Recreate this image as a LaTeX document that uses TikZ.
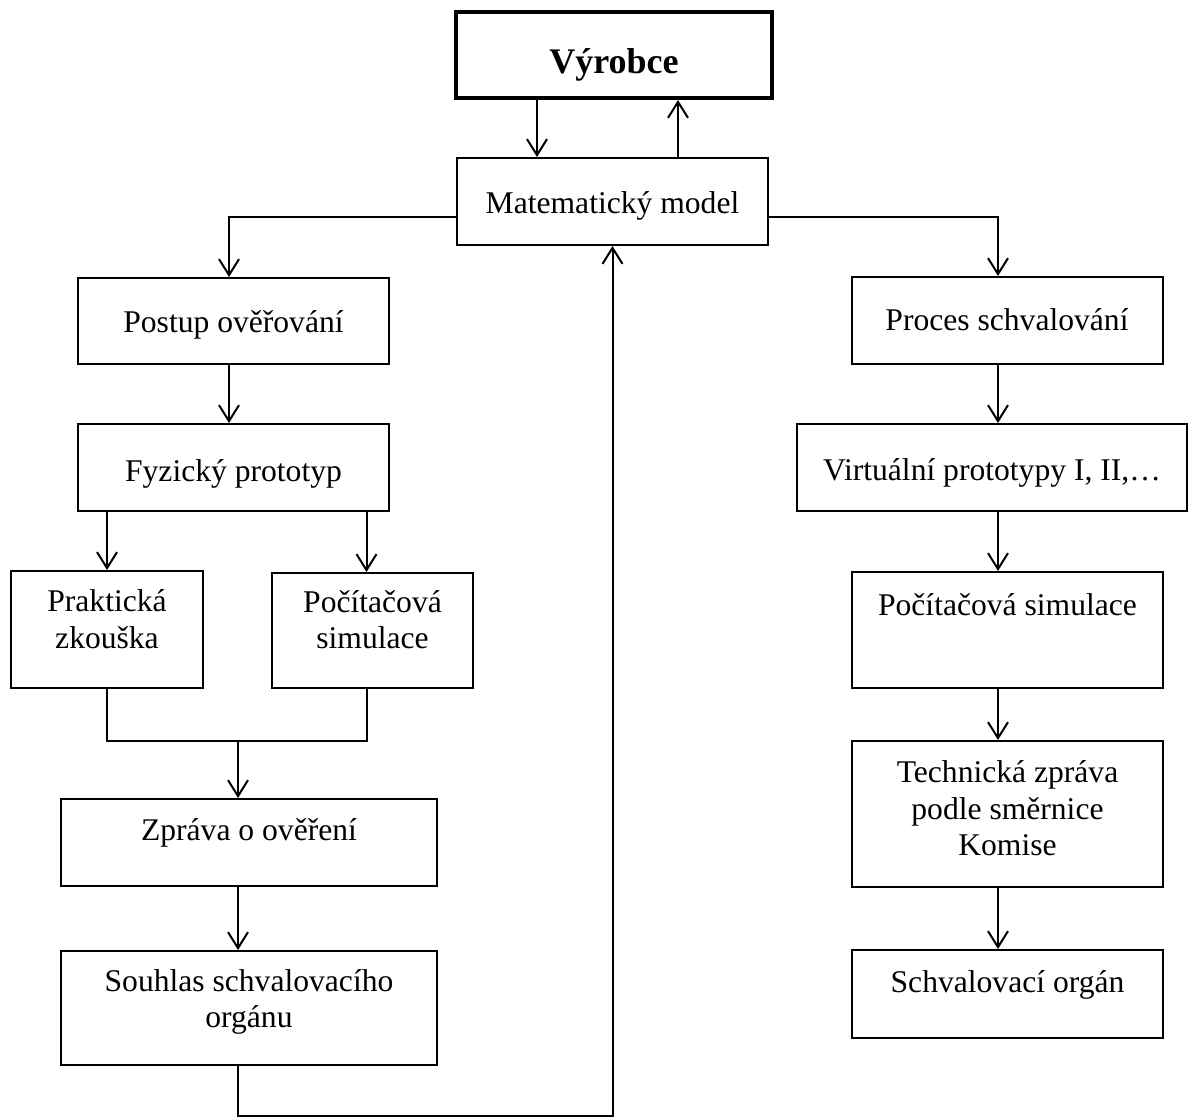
\documentclass[tikz,border=0pt]{standalone}
\usepackage{fontspec}
\setmainfont{Liberation Serif}
\usepackage{tikz}
\usetikzlibrary{arrows.meta}

\begin{document}
\begin{tikzpicture}[
  x=0.5pt, y=-0.5pt,
  font=\fontsize{15.8}{18.4}\selectfont,
  box/.style={draw, line width=1pt, align=center, inner sep=0pt},
  lift/.style 2 args={text height=#1, text depth=#2},
  arr/.style={-{Straight Barb[length=8pt,width=10pt]}, line width=1pt},
  line/.style={line width=1pt}
]
\useasboundingbox (0,0) rectangle (1189,1117);
% top
\node[box, line width=2pt, lift={20pt}{1.5pt}, minimum width=158pt, minimum height=43pt,
  font=\fontsize{18}{21}\selectfont\bfseries] (vyr) at (614,55) {Výrobce};
\node[box, lift={12pt}{0pt}, minimum width=155.5pt, minimum height=43.5pt] (mat) at (612.5,201.5) {Matematický model};
% left column
\node[box, lift={12pt}{0.5pt}, minimum width=155.5pt, minimum height=43pt] (postup) at (233.5,321) {Postup ověřování};
\node[box, lift={14pt}{0pt}, minimum width=155.5pt, minimum height=43.5pt] (fyz) at (233.5,467.5) {Fyzický prototyp};
\node[box, lift={30.4pt}{11.5pt}, minimum width=96pt, minimum height=58.5pt] (prak) at (107,629.5) {Praktická\\zkouška};
\node[box, lift={30.4pt}{12pt}, minimum width=100.5pt, minimum height=57.5pt] (pocL) at (372.5,630.5) {Počítačová\\simulace};
\node[box, lift={12pt}{14pt}, minimum width=188pt, minimum height=43.5pt] (zprava) at (249,842.5) {Zpráva o ověření};
\node[box, lift={30.4pt}{10.5pt}, minimum width=188pt, minimum height=57pt] (souhlas) at (249,1008) {Souhlas schvalovacího\\orgánu};
% right column
\node[box, lift={12pt}{1.5pt}, minimum width=155.5pt, minimum height=43.5pt] (proces) at (1007,320.5) {Proces schvalování};
\node[box, lift={14pt}{1pt}, minimum width=195pt, minimum height=43.5pt] (virt) at (992,467.5) {Virtuální prototypy I, II,…};
\node[box, lift={12pt}{26.5pt}, minimum width=155.5pt, minimum height=58pt] (pocR) at (1007.5,630) {Počítačová simulace};
\node[box, lift={48.8pt}{7pt}, minimum width=155.5pt, minimum height=73pt] (tech) at (1007.5,814) {Technická zpráva\\podle směrnice\\Komise};
\node[box, lift={12pt}{13.5pt}, minimum width=155.5pt, minimum height=44pt] (schv) at (1007.5,994) {Schvalovací orgán};

% columns of the connectors
\coordinate (lcol) at (229,0);
\coordinate (rcol) at (998,0);
\coordinate (jn) at (238,741);
\coordinate (bot) at (612.5,1115.5);

\draw[arr] ([xshift=-38.5pt]vyr.south) -- ([xshift=-38.5pt]vyr.south |- mat.north);
\draw[arr] ([xshift=32pt]vyr.south |- mat.north) -- ([xshift=32pt]vyr.south);
\draw[arr] ([yshift=-7.75pt]mat.west) -| (postup.north -| lcol);
\draw[arr] ([yshift=-7.75pt]mat.east) -| (proces.north -| rcol);
% left
\draw[arr] (postup.south -| lcol) -- (fyz.north -| lcol);
\draw[arr] (fyz.south -| prak.north) -- (prak.north);
\draw[arr] ([xshift=-3pt]fyz.south -| pocL.north) -- ([xshift=-3pt]pocL.north);
\draw[line] (prak.south) |- (jn) -| ([xshift=-3pt]pocL.south);
\draw[arr] (jn) -- (jn |- zprava.north);
\draw[arr] (zprava.south -| jn) -- (souhlas.north -| jn);
\draw[arr] (souhlas.south -| jn) |- (bot) -- (mat.south);
% right
\draw[arr] (proces.south -| rcol) -- (virt.north -| rcol);
\draw[arr] (virt.south -| rcol) -- (pocR.north -| rcol);
\draw[arr] (pocR.south -| rcol) -- (tech.north -| rcol);
\draw[arr] (tech.south -| rcol) -- (schv.north -| rcol);
\end{tikzpicture}
\end{document}
